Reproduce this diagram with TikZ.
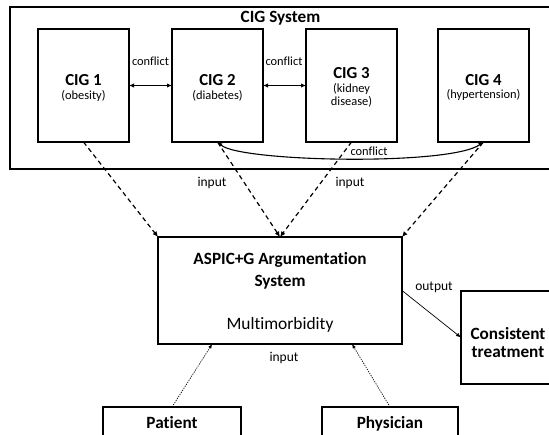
\documentclass[tikz,border=0pt]{standalone}
\usepackage{fontspec}
\setmainfont{Carlito}[Ligatures={NoCommon}]
\usetikzlibrary{arrows.meta,calc}
\newcommand\myfs[1]{\fontsize{#1bp}{#1bp}\selectfont}
\begin{document}
\begin{tikzpicture}[x=1bp,y=-1bp,
  box/.style={draw, line width=1.1bp, inner sep=0pt, outer sep=0pt},
  cigbox/.style={box, minimum width=91bp, minimum height=113bp},
  lbl/.style={inner sep=0pt, anchor=base, align=center},
  big/.style={lbl, font=\myfs{17.2}\bfseries},
  cigt/.style={lbl, font=\myfs{16.8}\bfseries},
  sml/.style={lbl, font=\myfs{12.4}},
  mid/.style={lbl, font=\myfs{13.5}},
  conf/.style={line width=1.1bp, {Latex[length=5bp,width=4.5bp]}-{Latex[length=5bp,width=4.5bp]}},
  dsh/.style={line width=1.2bp, dash pattern=on 4.5bp off 3.5bp, -{Latex[length=5.5bp,width=5bp]}},
  dotarr/.style={line width=0.7bp, dash pattern=on 1.2bp off 1.2bp, -{Latex[length=4.5bp,width=3.5bp]}},
  outarr/.style={line width=0.7bp, -{Latex[length=5bp,width=4bp]}}
]
\useasboundingbox (0,0) rectangle (549,435);
\clip (0,0) rectangle (549,435);
\fill[white] (0,0) rectangle (549,435);

% CIG system frame
\node[box, line width=2.6bp, minimum width=590bp, minimum height=162bp] (cigsys) at (305,88) {};
\node[big] (systitle) at (280.5,23) {CIG System};

% CIG boxes
\node[cigbox] (cig1) at (83.5,85.5) {};
\node[cigbox] (cig2) at (217.5,85.5) {};
\node[cigbox] (cig3) at (351.5,85.5) {};
\node[cigbox] (cig4) at (483.5,85.5) {};

\node[cigt] (c1t) at (83.5,85.5) {CIG 1};
\node[sml] (c1s) at (83.5,100) {(obesity)};
\node[cigt] (c2t) at (217.5,85.5) {CIG 2};
\node[sml] (c2s) at (217.5,100) {(diabetes)};
\node[cigt] (c3t) at (351.5,79) {CIG 3};
\node[sml] (c3s) at (351.5,93) {(kidney};
\node[sml] (c3s2) at (351.5,106) {disease)};
\node[cigt] (c4t) at (483.5,85.5) {CIG 4};
\node[sml] (c4s) at (483.5,99) {(hypertension)};

% conflicts
\draw[conf] (cig1.east) -- (cig2.west);
\draw[conf] (cig2.east) -- (cig3.west);
\draw[conf] (cig2.south) .. controls (240,162) and (450,166) .. (cig4.south);
\node[sml] (conf1) at (150.5,66) {conflict};
\node[sml] (conf2) at (284,66) {conflict};
\node[sml] (conf3) at (369,156) {conflict};

% ASPIC box
\node[box, minimum width=244bp, minimum height=107bp] (aspic) at (280,290.5) {};
\node[big] (aspic1) at (280,265) {ASPIC+G Argumentation};
\node[big] (aspic2) at (280,286) {System};
\node[lbl, font=\myfs{17.4}] (aspic3) at (280,329) {Multimorbidity};

% inputs from CIGs
\draw[dsh] (cig1.south) -- (aspic.north west);
\draw[dsh] (cig2.south) -- (aspic.north);
\draw[dsh] (cig3.south) -- (aspic.north);
\draw[dsh] (cig4.south) -- (aspic.north east);
\node[mid] (in1) at (212,187) {input};
\node[mid] (in2) at (350,187) {input};

% output
\node[box, minimum width=94bp, minimum height=93bp] (cons) at (508,337.5) {};
\node[big] (cons1) at (508,339) {Consistent};
\node[big] (cons2) at (508,357) {treatment};
\draw[outarr] (aspic.east) -- (cons.west);
\node[mid] (outl) at (434,290) {output};

% patient / physician
\node[box, minimum width=138bp, minimum height=53bp] (patient) at (172,433.5) {};
\node[box, minimum width=136bp, minimum height=53bp] (physician) at (390,433.5) {};
\node[big] (patt) at (172,428) {Patient};
\node[big] (phyt) at (390,428) {Physician};
\draw[dotarr] (patient.north) -- ($(aspic.south west)!0.222!(aspic.south east)$);
\draw[dotarr] (physician.north) -- ($(aspic.south west)!0.795!(aspic.south east)$);
\node[mid] (in3) at (284,361) {input};
\end{tikzpicture}
\end{document}
